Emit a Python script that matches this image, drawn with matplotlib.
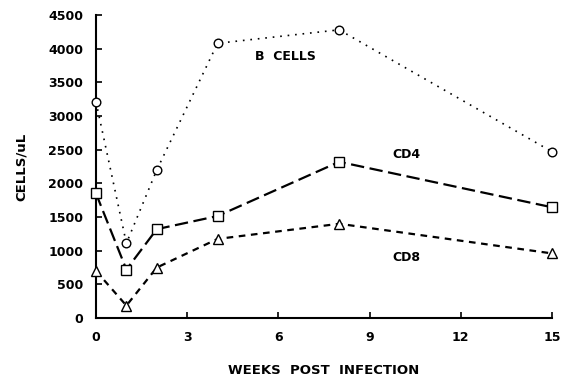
"""
Lymphocyte counts after infection (B cells, CD4, CD8).
"""

import matplotlib
matplotlib.use("Agg")
import matplotlib.pyplot as plt

weeks = [0, 1, 2, 4, 8, 15]
b_cells = [3210, 1110, 2200, 4080, 4280, 2470]
cd4 = [1850, 720, 1320, 1515, 2320, 1645]
cd8 = [700, 185, 750, 1175, 1400, 960]

x_ticks = [0, 3, 6, 9, 12, 15]
y_ticks = list(range(0, 4501, 500))

plt.rcParams['font.family'] = ['DejaVu Sans']
plt.rcParams['font.weight'] = 'bold'

fig = plt.figure(figsize=(5.67, 3.8), dpi=100)
ax = fig.add_axes([0.1693, 0.163, 0.8042, 0.7975])

# B cells: thin dotted line, open circles
ax.plot(weeks, b_cells, color="black", lw=1.2, linestyle=(0, (1, 3.5)),
        marker="o", ms=6.2, mfc="white", mec="black", mew=1.0,
        clip_on=False, zorder=3)
# CD4: long dashes, open squares
ax.plot(weeks, cd4, color="black", lw=1.6, linestyle=(0, (6, 2.5)),
        marker="s", ms=7.2, mfc="white", mec="black", mew=1.0,
        clip_on=False, zorder=3)
# CD8: short dashes, open triangles
ax.plot(weeks, cd8, color="black", lw=1.6, linestyle=(0, (3, 2.5)),
        marker="^", ms=7.5, mfc="white", mec="black", mew=1.0,
        clip_on=False, zorder=3)

ax.text(6.22, 3883, "B  CELLS", ha="center", va="center",
        fontsize=9, fontweight="bold")
ax.text(10.22, 2432, "CD4", ha="center", va="center",
        fontsize=9, fontweight="bold")
ax.text(10.22, 902, "CD8", ha="center", va="center",
        fontsize=9, fontweight="bold")

ax.set_xlim(0, 15)
ax.set_ylim(0, 4500)
ax.set_xticks(x_ticks)
ax.set_yticks(y_ticks)
ax.tick_params(direction="in", length=4, width=1.2,
               labelsize=9, pad=9)
for lbl in ax.get_xticklabels() + ax.get_yticklabels():
    lbl.set_fontweight("bold")

for side in ["top", "right"]:
    ax.spines[side].set_visible(False)
for side in ["left", "bottom"]:
    ax.spines[side].set_linewidth(1.5)

ax.set_xlabel("WEEKS  POST  INFECTION", fontsize=9.5,
              fontweight="bold", labelpad=15)
ax.set_ylabel("CELLS/uL", fontsize=9.5, fontweight="bold", labelpad=15)

fig.savefig("out.png", dpi=100)
